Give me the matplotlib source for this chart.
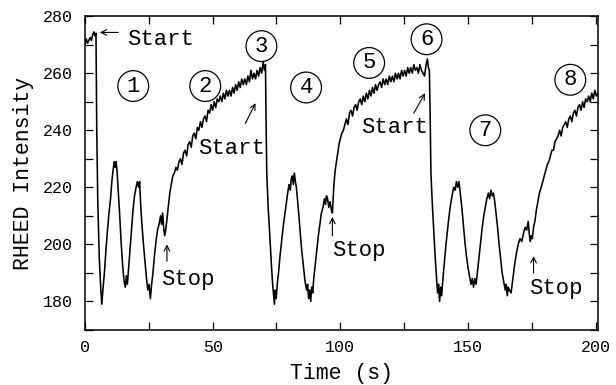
import matplotlib
matplotlib.use("Agg")
import matplotlib.pyplot as plt
from matplotlib.ticker import MultipleLocator

# ---------------- data ----------------
time_s = [
    0.0, 0.5, 1.0, 1.5, 2.0, 2.5, 3.0, 3.5, 4.0, 4.3,
    4.6, 5.0, 5.6, 6.2, 6.6, 7.0, 7.6, 8.2, 8.8, 9.4, 10.0, 10.5, 11.0, 11.4, 11.8,
    12.2, 12.6, 13.0, 13.6, 14.2, 14.8, 15.3, 15.8, 16.2, 16.6, 17.1, 17.6, 18.2,
    18.8, 19.4, 20.0, 20.5, 21.0, 21.4, 21.8, 22.3, 22.9, 23.5, 24.1, 24.6, 25.1,
    25.6, 26.1, 26.6, 27.2, 27.8, 28.4, 29.0, 29.6, 30.0, 30.4, 30.8, 31.2, 31.6,
    32.0, 32.6, 33.2, 33.8, 34.4,
    35.0, 35.6, 36.2, 36.8, 37.4, 38.0, 38.6, 39.2, 39.8, 40.4, 41.0, 41.6, 42.2,
    42.8, 43.4, 44.0, 44.6, 45.2, 45.8, 46.4, 47.0, 47.6, 48.2, 48.8, 49.4, 50.0,
    50.6, 51.2, 51.8, 52.4, 53.0, 53.6, 54.2, 54.8, 55.4, 56.0, 56.6, 57.2, 57.8,
    58.4, 59.0, 59.6, 60.2, 60.8, 61.4, 62.0, 62.6, 63.2, 63.8, 64.4, 65.0, 65.6,
    66.2, 66.8, 67.4, 68.0, 68.6, 69.2, 69.8, 70.3, 70.7,
    70.9, 71.2, 71.8, 72.4, 73.0, 73.5, 73.9, 74.2, 74.5, 74.9, 75.3, 75.8, 76.4,
    77.0, 77.6, 78.2, 78.8, 79.4, 79.9, 80.4, 80.8, 81.2, 81.6, 82.0, 82.4, 82.8,
    83.2, 83.8, 84.4, 85.0, 85.6, 86.2, 86.8, 87.2, 87.6, 88.0, 88.4, 88.8, 89.2,
    89.6, 90.2, 90.8, 91.4, 92.0, 92.6, 93.2, 93.8, 94.2, 94.6, 95.0, 95.5, 96.0,
    96.5, 96.9, 97.2, 97.5, 98.0, 98.5, 99.0, 99.5, 100.0,
    100.6, 101.2, 101.8, 102.4, 103.0, 103.6, 104.2, 104.8, 105.4, 106.0, 106.6,
    107.2, 107.8, 108.4, 109.0, 109.6, 110.2, 110.8, 111.4, 112.0, 112.6, 113.2,
    113.8, 114.4, 115.0, 115.6, 116.2, 116.8, 117.4, 118.0, 118.6, 119.2, 119.8,
    120.4, 121.0, 121.6, 122.2, 122.8, 123.4, 124.0, 124.6, 125.2, 125.8, 126.4,
    127.0, 127.6, 128.2, 128.8, 129.4, 130.0, 130.6, 131.2, 131.8, 132.4, 133.0,
    133.6, 134.1, 134.5, 134.9,
    135.2, 135.5, 136.0, 136.6, 137.2, 137.7, 138.1, 138.5, 138.9, 139.3, 139.7,
    140.2, 140.8, 141.4, 142.0, 142.6, 143.2, 143.8, 144.4, 145.0, 145.5, 146.0,
    146.5, 147.0, 147.6, 148.2, 148.8, 149.4, 150.0, 150.6, 151.2, 151.7, 152.2,
    152.7, 153.2, 153.8, 154.4, 155.0, 155.6, 156.2, 156.8, 157.4, 158.0, 158.5,
    159.0, 159.5, 160.0, 160.5, 161.0, 161.6, 162.2, 162.8, 163.4, 164.0, 164.6,
    165.0, 165.4, 165.8, 166.2, 166.9, 167.6, 168.3, 169.0, 169.7, 170.4, 171.1,
    171.8, 172.4, 173.0, 173.6, 174.0, 174.4, 174.8, 175.2, 175.7, 176.2, 176.8,
    177.4, 178.0, 178.7,
    179.3, 179.9, 180.5, 181.1, 181.7, 182.3, 182.9, 183.5, 184.1, 184.7, 185.3,
    185.9, 186.5, 187.1, 187.7, 188.3, 188.9, 189.5, 190.1, 190.7, 191.3, 191.9,
    192.5, 193.1, 193.7, 194.3, 194.9, 195.5, 196.1, 196.7, 197.3, 197.9, 198.5,
    199.1, 199.7, 200.3, 200.9,
]
intensity = [
    270, 272, 270.5, 271.5, 272.5, 271.5, 273.5, 274.5, 273, 274,
    240, 215, 195, 184, 179, 184, 190, 198, 205, 211, 216, 222, 226, 229, 227,
    229, 225, 219, 210, 200, 192, 187, 185, 189, 186, 192, 198, 205,
    212, 217, 220, 222, 220, 222, 214, 207, 200, 194, 188, 184, 186,
    181, 186, 190, 196, 201, 205, 207, 210, 207, 211, 206, 203, 205,
    208, 213, 218, 221, 224,
    225, 227, 226, 229, 230, 228, 232, 233, 231, 235, 236, 234, 238,
    239, 237, 241, 240, 243, 241, 244, 245, 243, 247, 246, 249, 247,
    250, 248, 251, 250, 252, 250, 253, 251, 254, 252, 254, 252, 255,
    253, 256, 254, 257, 255, 258, 256, 258, 256, 259, 257, 261, 258,
    260, 258, 261, 259, 262, 260, 264, 261, 263,
    245, 225, 212, 203, 193, 186, 182, 179, 184, 181, 186, 190, 196,
    201, 206, 210, 214, 218, 221, 219, 223, 224, 221, 225, 222, 220,
    216, 210, 203, 197, 192, 187, 184, 186, 181, 184, 180, 185, 183,
    188, 193, 198, 203, 207, 211, 213, 216, 214, 217, 216, 213, 215,
    212, 211, 216, 221, 226, 229, 232, 235, 237,
    239, 240, 242, 244, 242, 246, 247, 245, 248, 249, 247,
    250, 251, 249, 252, 250, 253, 251, 254, 252, 255, 253,
    256, 254, 256, 257, 255, 258, 256, 258, 256, 259, 257,
    259, 257, 260, 258, 260, 258, 261, 259, 261, 259, 262,
    260, 262, 260, 263, 261, 262, 260, 263, 261, 260, 259,
    263, 265, 262, 261,
    245, 225, 215, 205, 195, 188, 183, 186, 180, 185, 182,
    188, 194, 200, 205, 210, 214, 217, 220, 219, 222, 220,
    222, 218, 213, 207, 201, 196, 192, 189, 186, 188, 185,
    188, 186, 191, 196, 201, 206, 210, 213, 216, 218, 216,
    219, 217, 218, 215, 211, 206, 200, 195, 190, 187, 184,
    186, 182, 185, 184, 183, 188, 193, 197, 200, 202, 201,
    204, 206, 205, 208, 204, 201, 203, 202, 206, 208, 212,
    215, 218, 220,
    222, 224, 226, 228, 229, 231, 233, 233, 236, 237, 238,
    240, 238, 241, 242, 243, 241, 244, 245, 243, 246, 247,
    245, 248, 249, 247, 250, 248, 251, 250, 252, 250, 253,
    251, 254, 252, 253,
]

circle_labels = ["1", "2", "3", "4", "5", "6", "7", "8"]
circle_t = [18.9, 47.1, 69.1, 86.6, 111.3, 133.8, 156.8, 190.1]
circle_i = [255.5, 255.5, 269.5, 255.0, 263.6, 271.9, 240.0, 257.7]

note_text = ["Start", "Start", "Start", "Stop", "Stop", "Stop"]
note_t = [29.5, 57.5, 121.4, 40.1, 107.2, 184.6]
note_i = [271.9, 233.6, 241.0, 187.7, 197.7, 184.5]
arrow_tail_t = [13.0, 62.8, 128.8, 32.1, 96.9, 175.7]
arrow_tail_i = [274.3, 242.4, 246.0, 194.1, 203.0, 190.0]
arrow_head_t = [5.8, 66.8, 133.2, 32.1, 96.9, 175.7]
arrow_head_i = [274.3, 249.5, 253.0, 200.0, 209.6, 195.9]

x_ticks = [0, 50, 100, 150, 200]
y_ticks = [180, 200, 220, 240, 260, 280]

# ---------------- figure ----------------
FONT = ["Liberation Mono", "DejaVu Sans Mono"]
plt.rcParams["font.family"] = FONT

fig = plt.figure(figsize=(6.16, 3.85), dpi=100)
ax = fig.add_axes([0.138, 0.143, 0.833, 0.815])

ax.plot(time_s, intensity, color="black", lw=1.15)

ax.set_xlim(0, 201)
ax.set_ylim(170, 280)
ax.set_xticks(x_ticks)
ax.set_yticks(y_ticks)
ax.xaxis.set_minor_locator(MultipleLocator(25))
ax.yaxis.set_minor_locator(MultipleLocator(10))
ax.tick_params(which="both", direction="in", top=True, right=True,
               length=6, width=0.9, labelsize=12)
ax.tick_params(axis="y", pad=9)
ax.tick_params(axis="x", pad=7)
for s in ax.spines.values():
    s.set_linewidth(1.1)

ax.set_xlabel("Time (s)", fontsize=15.5, labelpad=6)
ax.set_ylabel("RHEED Intensity", fontsize=15.5, labelpad=6)

for lab, t, i in zip(circle_labels, circle_t, circle_i):
    ax.text(t, i, lab, ha="center", va="center", fontsize=16,
            bbox=dict(boxstyle="circle,pad=0.22", fc="none", ec="black", lw=0.9))

for txt, t, i in zip(note_text, note_t, note_i):
    ax.text(t, i, txt, ha="center", va="center", fontsize=16)

for tt, ti, ht, hi in zip(arrow_tail_t, arrow_tail_i, arrow_head_t, arrow_head_i):
    ax.annotate("", xy=(ht, hi), xytext=(tt, ti),
                arrowprops=dict(arrowstyle="->", lw=0.8, color="black",
                                shrinkA=0, shrinkB=0))

fig.savefig("out.png", dpi=100)
